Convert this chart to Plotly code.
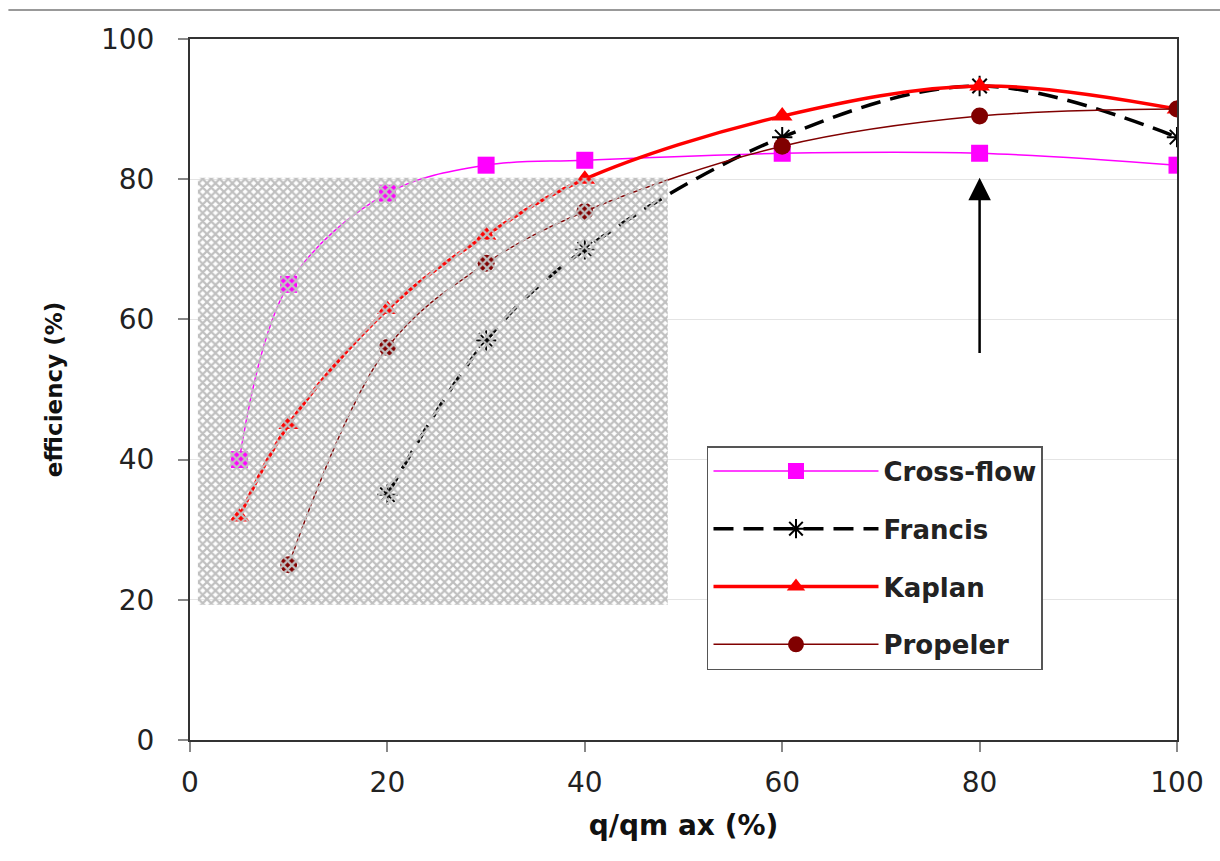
import plotly.graph_objects as go

# ---- data ----
series_names = ["Cross-flow", "Francis", "Kaplan", "Propeler"]

cross_x = [5, 10, 20, 30, 40, 60, 80, 100]
cross_y = [40, 65, 78, 82, 82.7, 83.7, 83.7, 82]

francis_x = [20, 30, 40, 60, 80, 100]
francis_y = [35, 57, 70, 86, 93.3, 86]

kaplan_x = [5, 10, 20, 30, 40, 60, 80, 100]
kaplan_y = [31.8, 45, 61.4, 72, 80, 89, 93.3, 90]

propeler_x = [10, 20, 30, 40, 60, 80, 100]
propeler_y = [25, 56, 68, 75.4, 84.7, 89, 90]

x_ticks = [0, 20, 40, 60, 80, 100]
y_ticks = [0, 20, 40, 60, 80, 100]

x_title = "q/qm ax (%)"
y_title = "efficiency (%)"

# shaded (textured) region and arrow, decoration in data units
shade_x0, shade_x1 = 0.8, 48.4
shade_y0, shade_y1 = 19.3, 80.2
arrow_x, arrow_tail, arrow_tip = 80, 55, 80.2

fig = go.Figure()

fig.add_trace(go.Scatter(
    x=cross_x, y=cross_y, name=series_names[0], mode="lines+markers",
    line=dict(color="#ff00ff", width=1.5, shape="spline", smoothing=1.0),
    marker=dict(symbol="square", size=17, color="#ff00ff"),
    legendgroup="a"))

fig.add_trace(go.Scatter(
    x=francis_x, y=francis_y, name=series_names[1], mode="lines+markers",
    line=dict(color="black", width=3.5, dash="20px,10px", shape="spline", smoothing=1.0),
    marker=dict(symbol="asterisk-open", size=17, color="black", line=dict(width=2, color="black")),
    legendgroup="b"))

fig.add_trace(go.Scatter(
    x=kaplan_x, y=kaplan_y, name=series_names[2], mode="lines+markers",
    line=dict(color="#ff0000", width=3.5, shape="spline", smoothing=1.0),
    marker=dict(symbol="triangle-up", size=18, color="#ff0000"),
    legendgroup="c"))

fig.add_trace(go.Scatter(
    x=propeler_x, y=propeler_y, name=series_names[3], mode="lines+markers",
    line=dict(color="#800000", width=1.5, shape="spline", smoothing=1.0),
    marker=dict(symbol="circle", size=17, color="#800000"),
    legendgroup="d"))

# textured grey overlay on top of the curves
fig.add_trace(go.Scatter(
    x=[shade_x0, shade_x1, shade_x1, shade_x0, shade_x0],
    y=[shade_y0, shade_y0, shade_y1, shade_y1, shade_y0],
    mode="none", fill="toself", fillcolor="rgba(0,0,0,0)",
    fillpattern=dict(shape="x", fgcolor="#c0c0c0", size=6, solidity=0.6, fillmode="replace"),
    showlegend=False, hoverinfo="skip"))

tick_font = dict(family="DejaVu Sans", size=28, color="#222222")

fig.update_layout(
    width=1220, height=861, autosize=False,
    paper_bgcolor="white", plot_bgcolor="white",
    margin=dict(l=190, r=43, t=39, b=121),
    showlegend=True,
    legend=dict(
        x=0.5238, y=0.4194, xanchor="left", yanchor="top",
        bgcolor="white", bordercolor="#555555", borderwidth=1.5,
        font=dict(family="DejaVu Sans", size=26, color="#222222", weight="bold"),
        itemwidth=165, tracegroupgap=21, traceorder="grouped",
    ),
    xaxis=dict(
        range=[0, 100], tickvals=x_ticks, ticks="outside", ticklen=10,
        tickwidth=1.5, tickcolor="#888888", showline=True, linecolor="#333333",
        linewidth=2, mirror=True, showgrid=False, zeroline=False,
        tickfont=tick_font, ticklabelstandoff=6,
        title=dict(text="<b>" + x_title + "</b>", standoff=18,
                   font=dict(family="DejaVu Sans", size=28, color="#111111")),
    ),
    yaxis=dict(
        range=[0, 100], tickvals=y_ticks, ticks="outside", ticklen=10,
        tickwidth=1.5, tickcolor="#888888", showline=True, linecolor="#333333",
        linewidth=2, mirror=True, showgrid=True, gridcolor="#e4e4e4", gridwidth=1,
        zeroline=False, tickfont=tick_font, ticklabelstandoff=18,
        title=dict(text="<b>" + y_title + "</b>", standoff=32,
                   font=dict(family="DejaVu Sans", size=23, color="#111111")),
    ),
)

# arrow pointing up at the 80 % flow point
fig.add_annotation(
    x=arrow_x, y=arrow_tip, ax=arrow_x, ay=arrow_tail, axref="x", ayref="y",
    xref="x", yref="y", text="", showarrow=True,
    arrowhead=2, arrowsize=1.8, arrowwidth=2.5, arrowcolor="black")

# thin grey rule across the top of the page
fig.add_shape(type="line", xref="paper", yref="paper",
              x0=-0.184, x1=1.05, y0=1.0414, y1=1.0414,
              line=dict(color="#999999", width=2))

fig.write_html("out.html")
